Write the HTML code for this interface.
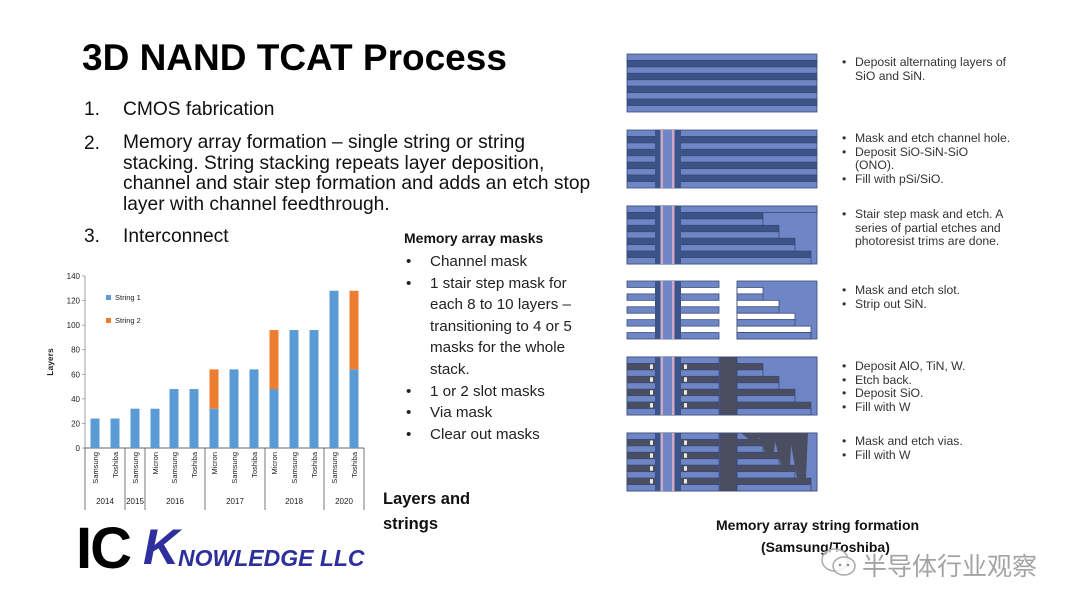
<!DOCTYPE html>
<html><head><meta charset="utf-8">
<style>
body{margin:0;width:1080px;height:608px;background:#fff;overflow:hidden;position:relative;font-family:"Liberation Sans","Noto Sans CJK SC",sans-serif;}
.a{position:absolute;white-space:nowrap;}
.t{font-size:19.2px;color:#111;}
.m{font-size:15.2px;color:#222;}
.r{font-size:12.2px;color:#333;line-height:13.5px;}
</style></head><body>
<div class="a" style="left:82px;top:37px;font-size:37px;font-weight:bold;color:#000;">3D NAND TCAT Process</div>
<div class="a t" style="left:84px;top:99px;">1.</div><div class="a t" style="left:123px;top:99px;">CMOS fabrication</div>
<div class="a t" style="left:84px;top:133px;">2.</div>
<div class="a t" style="left:123px;top:133px;line-height:20.5px;">Memory array formation – single string or string<br>stacking. String stacking repeats layer deposition,<br>channel and stair step formation and adds an etch stop<br>layer with channel feedthrough.</div>
<div class="a t" style="left:84px;top:226px;">3.</div><div class="a t" style="left:123px;top:226px;">Interconnect</div>

<div class="a" style="left:404px;top:230px;font-size:14px;font-weight:bold;color:#111;">Memory array masks</div>
<div class="a m" style="left:406px;top:251px;line-height:21.6px;">•<br>•<br><br><br><br><br>•<br>•<br>•</div>
<div class="a m" style="left:430px;top:251px;line-height:21.6px;">Channel mask<br>1 stair step mask for<br>each 8 to 10 layers –<br>transitioning to 4 or 5<br>masks for the whole<br>stack.<br>1 or 2 slot masks<br>Via mask<br>Clear out masks</div>

<div class="a" style="left:383px;top:487px;font-size:16.5px;font-weight:bold;color:#111;line-height:25px;">Layers and<br>strings</div>

<div class="a" style="left:76px;top:515px;font-size:58px;font-weight:bold;color:#000;letter-spacing:-2px;">IC</div>
<div class="a" style="left:143px;top:518px;font-size:50px;font-weight:bold;font-style:italic;color:#2e2f9c;">K</div>
<div class="a" style="left:178px;top:545px;font-size:23px;font-weight:bold;font-style:italic;color:#2e2f9c;">NOWLEDGE LLC</div>

<svg class="a" style="left:0;top:0" width="1080" height="608" id="s"></svg>

<div class="a r" style="left:842px;top:56px;">•</div>
<div class="a r" style="left:855px;top:56px;">Deposit alternating layers of<br>SiO and SiN.</div>
<div class="a r" style="left:855px;top:132px;">Mask and etch channel hole.<br>Deposit SiO-SiN-SiO<br>(ONO).<br>Fill with pSi/SiO.</div>
<div class="a r" style="left:842px;top:132px;">•<br>•<br><br>•</div>
<div class="a r" style="left:842px;top:208px;">•</div>
<div class="a r" style="left:855px;top:208px;">Stair step mask and etch. A<br>series of partial etches and<br>photoresist trims are done.</div>
<div class="a r" style="left:842px;top:284px;">•<br>•</div>
<div class="a r" style="left:855px;top:284px;">Mask and etch slot.<br>Strip out SiN.</div>
<div class="a r" style="left:842px;top:360px;">•<br>•<br>•<br>•</div>
<div class="a r" style="left:855px;top:360px;">Deposit AlO, TiN, W.<br>Etch back.<br>Deposit SiO.<br>Fill with W</div>
<div class="a r" style="left:842px;top:435px;">•<br>•</div>
<div class="a r" style="left:855px;top:435px;">Mask and etch vias.<br>Fill with W</div>

<div class="a" style="left:716px;top:517px;font-size:14px;font-weight:bold;color:#111;">Memory array string formation</div>
<div class="a" style="left:761px;top:539px;font-size:14px;font-weight:bold;color:#111;">(Samsung/Toshiba)</div>
<div class="a" style="left:862px;top:547px;font-size:25px;color:rgba(140,140,140,0.8);">半导体行业观察</div>
<svg class="a" style="left:818px;top:545px" width="42" height="36"><ellipse cx="17" cy="15" rx="13" ry="11" fill="rgba(255,255,255,0.7)" stroke="#aaa" stroke-width="1.5"/><ellipse cx="26" cy="21" rx="11" ry="9" fill="rgba(255,255,255,0.8)" stroke="#aaa" stroke-width="1.5"/><circle cx="22" cy="20" r="1.4" fill="#999"/><circle cx="30" cy="20" r="1.4" fill="#999"/></svg>

<script>
var s=document.getElementById('s'),h='';
function R(x,y,w,hh,f,st){h+='<rect x="'+x+'" y="'+y+'" width="'+w+'" height="'+hh+'" fill="'+f+'"'+(st?' stroke="'+st+'" stroke-width="0.8"':'')+'/>';}
function T(x,y,t,sz,extra){h+='<text x="'+x+'" y="'+y+'" font-size="'+sz+'" font-family="Liberation Sans,sans-serif" fill="#222" '+(extra||'')+'>'+t+'</text>';}
var y0=448,k=172/140;
for(var v=0;v<=140;v+=20){T(80,y0-v*k+3,v,8,'text-anchor="end"');h+='<line x1="82" x2="85" y1="'+(y0-v*k)+'" y2="'+(y0-v*k)+'" stroke="#888" stroke-width="0.7"/>';}
h+='<line x1="85" y1="276" x2="85" y2="448" stroke="#888" stroke-width="0.8"/><line x1="85" y1="448" x2="364" y2="448" stroke="#333" stroke-width="0.8"/>';
var c=[95,115,135,155,174,194,214,234,254,274,294,314,334,354];
var b1=[24,24,32,32,48,48,32,64,64,48,96,96,128,64],b2=[0,0,0,0,0,0,32,0,0,48,0,0,0,64];
var n=['Samsung','Toshiba','Samsung','Micron','Samsung','Toshiba','Micron','Samsung','Toshiba','Micron','Samsung','Toshiba','Samsung','Toshiba'];
for(var i=0;i<14;i++){R(c[i]-4.5,y0-b1[i]*k,9,b1[i]*k,'#5b9bd5');if(b2[i])R(c[i]-4.5,y0-(b1[i]+b2[i])*k,9,b2[i]*k,'#ed7d31');
T(c[i]+3,452,n[i],7.5,'text-anchor="end" transform="rotate(-90 '+(c[i]+3)+' 452)"');}
[85,125,145,205,265,324,364].forEach(function(x){h+='<line x1="'+x+'" x2="'+x+'" y1="448" y2="510" stroke="#555" stroke-width="0.8"/>';});
[[105,'2014'],[135,'2015'],[175,'2016'],[235,'2017'],[294,'2018'],[344,'2020']].forEach(function(a){T(a[0],504,a[1],8,'text-anchor="middle"');});
T(53,362,'Layers',8.5,'font-weight="bold" text-anchor="middle" transform="rotate(-90 53 362)"');
R(106,295,5,5,'#5b9bd5');T(115,300,'String 1',7.5);R(106,318,5,5,'#ed7d31');T(115,323,'String 2',7.5);
var L='#6f86c6',D='#3b5386',G='#4a4e60',P='#d9a5b8',X0=627,X1=817,W=190,H=58,rh=H/9;
var ends=[763,779,795,811];
function chan(y){R(655,y,26,H,D);R(660,y,15,H,L);R(661,y,2,H,P);R(672,y,2,H,P);R(663,y,9,H,L);}
function stripes(y,xa,xb,odd){for(var i=0;i<9;i++){R(xa,y+i*rh,xb-xa,rh,i%2?odd:L,'#3a4a78');}}
stripes(54,X0,X1,D);
stripes(130,X0,X1,D);chan(130);
var y=206;R(X0,y,W,H,L,'#3a4a78');for(var i=0;i<9;i++){var e=i%2?ends[(i-1)/2]:(i==0?X1:ends[i/2-1]||X1);if(i==0){R(X0,y,W,rh,L,'#3a4a78');continue;}R(X0,y+i*rh,e-X0,rh,i%2?D:L,'#3a4a78');}chan(y);
function stair(y,fill){R(737,y,X1-737,H,L,'#3a4a78');for(var i=1;i<9;i++){var e=i%2?ends[(i-1)/2]:ends[i/2-1];R(737,y+i*rh,e-737,rh,i%2?fill:L,'#3a4a78');}R(737,y+8*rh,ends[3]-737,rh,L,'#3a4a78');}
y=281;for(var i=0;i<9;i+=2)R(X0,y+i*rh,92,rh,L,'#3a4a78');chan(y);stair(y,'#fff');
function p5(y){R(X0,y,W,H,L,'#3a4a78');for(var i=0;i<9;i++){R(X0,y+i*rh,92,rh,i%2?G:L,'#3a4a78');if(i%2){R(650,y+i*rh+1,3,rh-2,'#e8ecd8');R(684,y+i*rh+1,3,rh-2,'#e8ecd8');}}chan(y);stair(y,G);R(720,y,17,H,G,'#3a4a78');}
p5(357);p5(433);
y=433;for(var j=0;j<4;j++){var e=ends[j],yb=y+(2*j+1)*rh;h+='<polygon points="'+(e-22)+','+y+' '+(e-3)+','+y+' '+(e-5)+','+yb+' '+(e-14)+','+yb+'" fill="'+G+'"/>';}
s.innerHTML=h;
</script>
</body></html>
